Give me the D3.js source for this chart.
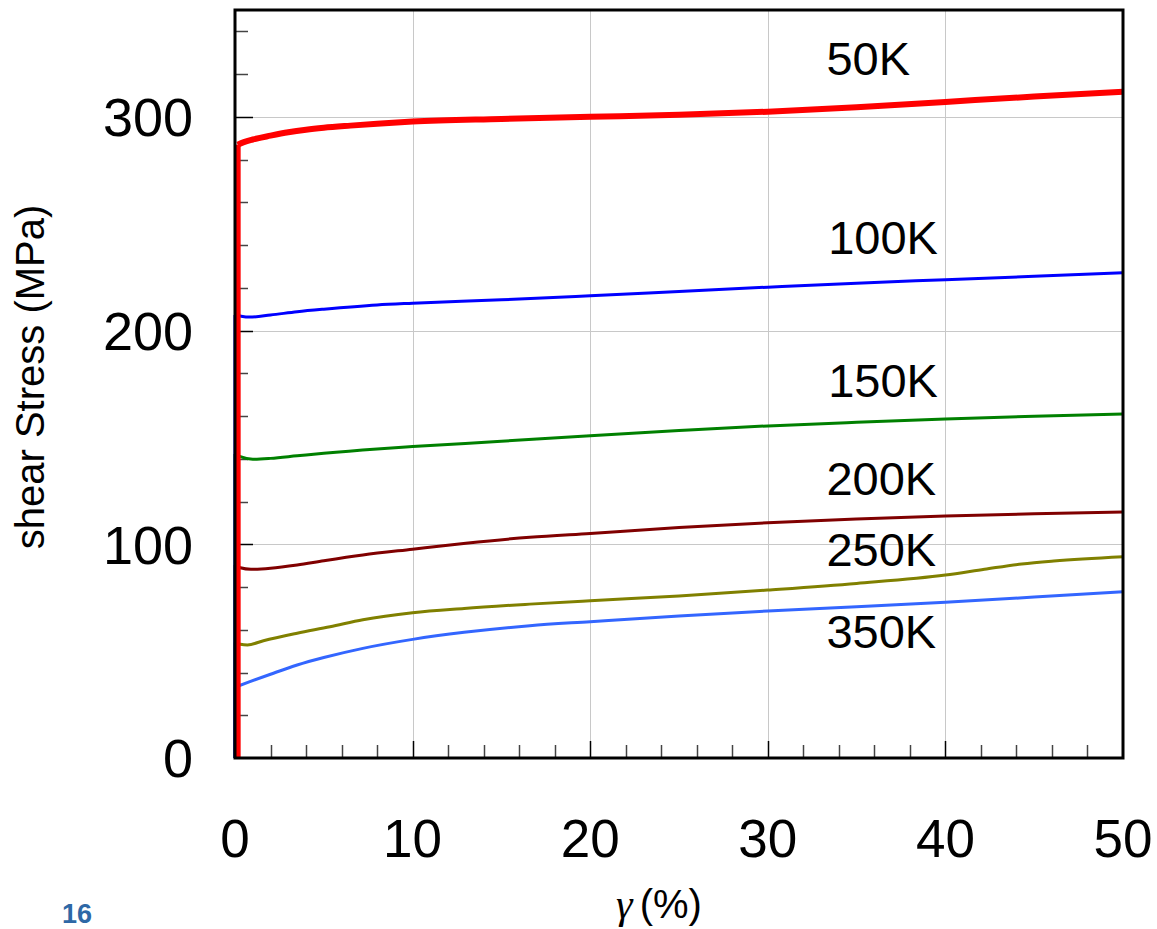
<!DOCTYPE html>
<html>
<head>
<meta charset="utf-8">
<script src="https://cdn.jsdelivr.net/npm/d3@7"></script>
<style>
  html, body { margin: 0; padding: 0; background: #fff; }
  svg { display: block; }
</style>
</head>
<body>
<svg id="chart" width="1157" height="929" font-family="'Liberation Sans', Arial, sans-serif"></svg>
<script>
// ---- Data ----
const seriesNames = ["50K", "100K", "150K", "200K", "250K", "350K"];

const strain50K  = [0.15, 0.5, 1, 2, 3, 4, 5, 6.5, 8, 10, 15, 20, 25, 30, 35, 40, 45, 50];
const stress50K  = [287, 288.2, 289.4, 291.2, 292.8, 294, 294.9, 295.9, 296.8, 297.8, 299, 300, 301, 302.4, 304.5, 307, 309.5, 311.8];

const strain100K = [0, 0.3, 0.8, 2, 3.5, 5, 8, 10, 15, 20, 25, 30, 35, 40, 45, 50];
const stress100K = [207.3, 206.8, 206.3, 207.3, 208.8, 210, 212, 212.8, 214.4, 216.3, 218.3, 220.3, 222.2, 223.8, 225.4, 227];

const strain150K = [0, 0.3, 1, 2, 3.5, 5, 8, 10, 15, 20, 25, 30, 35, 40, 45, 50];
const stress150K = [142.3, 141, 139.8, 140.2, 141.4, 142.6, 144.6, 145.7, 148.2, 150.8, 153.2, 155.4, 157.1, 158.6, 159.9, 161];

const strain200K = [0, 0.3, 0.9, 2, 3.5, 5, 7.2, 10, 13, 16.6, 20, 25, 30, 35, 40, 45, 50];
const stress200K = [90.3, 89, 88.3, 88.8, 90.3, 92.3, 95, 97.7, 100.5, 103.3, 105.1, 107.8, 110.1, 111.8, 113.2, 114.3, 115.1];

const strain250K = [0, 0.3, 0.7, 1.6, 3.5, 5.35, 7.2, 10, 12.9, 16.6, 20, 25, 30, 35, 40, 42.2, 44.3, 46.1, 50];
const stress250K = [54, 53.2, 52.9, 54.9, 58.4, 61.4, 64.7, 68, 70, 72, 73.6, 75.8, 78.6, 81.7, 85.6, 88.3, 90.8, 92.2, 94.2];

const strain350K = [0, 0.8, 2, 3.5, 5, 7.2, 10, 12.9, 16.6, 20, 25, 30, 35, 40, 45, 50];
const stress350K = [33.1, 35.6, 39.2, 43.5, 47, 51.3, 55.5, 58.8, 61.9, 63.8, 66.5, 68.8, 70.8, 72.9, 75.3, 77.8];

const xMajorTicks = [0, 10, 20, 30, 40, 50];
const yMajorTicks = [0, 100, 200, 300];
const xTitle = "(%)";
const xTitleSymbol = "γ";
const yTitle = "shear Stress (MPa)";
const pageNumber = "16";

// ---- Styling / layout ----
const colors = ["#ff0000", "#0000ff", "#008000", "#800000", "#808000", "#3366ff"];
const widths = [6, 3, 3, 3, 3, 3];
const labelAnchor = [ // [strain, stress] for the baseline-left of each label
  [33.3, 319.5], [33.4, 235.8], [33.4, 168.9], [33.3, 123.0], [33.3, 89.8], [33.3, 51.5]
];

const plot = { left: 235, right: 1123, top: 10, bottom: 758 };

const svg = d3.select("#chart");
const x = d3.scaleLinear().domain([0, 50]).range([plot.left, plot.right]);
const y = d3.scaleLinear().domain([0, 350]).range([plot.bottom, plot.top]);

// gridlines
const grid = svg.append("g").attr("stroke", "#c8c8c8").attr("stroke-width", 1);
grid.selectAll(".gx").data(xMajorTicks.filter(d => d > 0 && d < 50)).join("line")
  .attr("x1", d => Math.round(x(d)) + 0.5).attr("x2", d => Math.round(x(d)) + 0.5)
  .attr("y1", plot.top).attr("y2", plot.bottom);
grid.selectAll(".gy").data(yMajorTicks.filter(d => d > 0)).join("line")
  .attr("y1", d => Math.round(y(d)) + 0.5).attr("y2", d => Math.round(y(d)) + 0.5)
  .attr("x1", plot.left).attr("x2", plot.right);

// ticks (inside)
const xMinor = d3.range(2, 50, 2).filter(d => d % 10 !== 0);
const yMinor = d3.range(20, 350, 20).filter(d => d % 100 !== 0);
const ticks = svg.append("g");
ticks.selectAll(".xm").data(xMinor).join("line")
  .attr("x1", d => Math.round(x(d)) + 0.5).attr("x2", d => Math.round(x(d)) + 0.5)
  .attr("y1", plot.bottom).attr("y2", plot.bottom - 13)
  .attr("stroke", "#444").attr("stroke-width", 1.5);
ticks.selectAll(".xM").data(xMajorTicks.filter(d => d > 0 && d < 50)).join("line")
  .attr("x1", d => Math.round(x(d)) + 0.5).attr("x2", d => Math.round(x(d)) + 0.5)
  .attr("y1", plot.bottom).attr("y2", plot.bottom - 17)
  .attr("stroke", "#000").attr("stroke-width", 1.5);
ticks.selectAll(".ym").data(yMinor).join("line")
  .attr("y1", d => Math.round(y(d)) + 0.5).attr("y2", d => Math.round(y(d)) + 0.5)
  .attr("x1", plot.left).attr("x2", plot.left + 13)
  .attr("stroke", "#444").attr("stroke-width", 1.5);
ticks.selectAll(".yM").data(yMajorTicks.filter(d => d > 0)).join("line")
  .attr("y1", d => Math.round(y(d)) + 0.5).attr("y2", d => Math.round(y(d)) + 0.5)
  .attr("x1", plot.left).attr("x2", plot.left + 18)
  .attr("stroke", "#000").attr("stroke-width", 1.5);

// series
const allStrain = [strain50K, strain100K, strain150K, strain200K, strain250K, strain350K];
const allStress = [stress50K, stress100K, stress150K, stress200K, stress250K, stress350K];
const lineGen = d3.line().x(d => x(d[0])).y(d => y(d[1])).curve(d3.curveMonotoneX);
const lines = svg.append("g").attr("fill", "none").attr("stroke-linejoin", "round");
const order = [5, 4, 3, 2, 1, 0];
order.forEach(i => {
  const pts = allStrain[i].map((s, k) => [s, allStress[i][k]]);
  const g = lines.append("g").attr("stroke", colors[i]).attr("stroke-width", widths[i]);
  // initial elastic rise (vertical segment)
  g.append("path").attr("d", d3.line().x(d => x(d[0])).y(d => y(d[1]))([[pts[0][0], 0], pts[0]]))
    .attr("stroke-linecap", "butt");
  g.append("path").attr("d", lineGen(pts));
});

// frame
svg.append("rect")
  .attr("x", plot.left).attr("y", plot.top)
  .attr("width", plot.right - plot.left).attr("height", plot.bottom - plot.top)
  .attr("fill", "none").attr("stroke", "#000").attr("stroke-width", 3);

// tick labels
svg.append("g").selectAll("text").data(xMajorTicks).join("text")
  .attr("x", d => x(d)).attr("y", 857)
  .attr("text-anchor", "middle").attr("font-size", 53).attr("fill", "#000")
  .text(d => d);
svg.append("g").selectAll("text").data(yMajorTicks).join("text")
  .attr("x", 193).attr("y", d => y(d)).attr("dy", "0.36em")
  .attr("text-anchor", "end").attr("font-size", 54).attr("fill", "#000")
  .text(d => d);

// series labels
svg.append("g").selectAll("text").data(seriesNames).join("text")
  .attr("x", (d, i) => x(labelAnchor[i][0])).attr("y", (d, i) => y(labelAnchor[i][1]))
  .attr("font-size", 47).attr("fill", "#000")
  .text(d => d);

// axis titles
svg.append("text")
  .attr("transform", "translate(44,377) rotate(-90)")
  .attr("text-anchor", "middle").attr("font-size", 40).attr("fill", "#000")
  .text(yTitle);

const xt = svg.append("text").attr("x", 659).attr("y", 918)
  .attr("text-anchor", "middle").attr("fill", "#000");
xt.append("tspan").attr("font-family", "'Liberation Serif', 'DejaVu Serif', serif")
  .attr("font-style", "italic").attr("font-size", 42).text(xTitleSymbol);
xt.append("tspan").attr("font-size", 40).attr("dx", 7).text(xTitle);

// page number
svg.append("text").attr("x", 62).attr("y", 923)
  .attr("font-size", 27).attr("font-weight", "bold").attr("fill", "#2e68a6")
  .text(pageNumber);
</script>
</body>
</html>
